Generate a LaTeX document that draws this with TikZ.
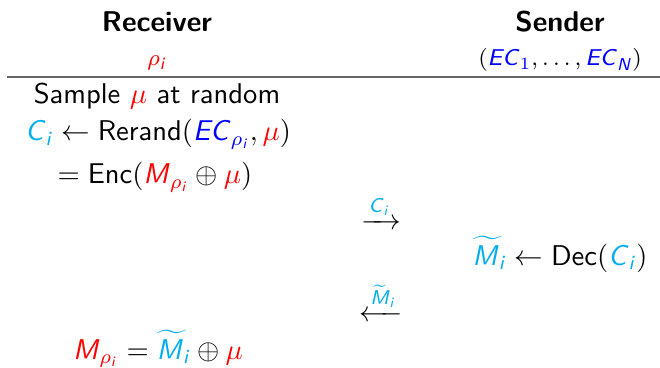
\documentclass[tikz,border=0pt]{standalone}
\usepackage{amsmath}
\usepackage{fontspec}
\usepackage{xcolor}
\definecolor{cy}{RGB}{0,174,239}
\definecolor{bl}{RGB}{0,0,255}
\definecolor{rd}{RGB}{255,0,0}
\newcommand\vv[1]{\textsf{\textit{#1}}}
\newcommand\wM{\widetilde{\vv{M}\kern1.2pt}\kern-1.2pt}
\begin{document}
\begin{tikzpicture}[x=0.35pt,y=-0.35pt,
  every node/.style={font=\sffamily, inner sep=0pt, anchor=base},
  head/.style={font=\sffamily\bfseries},
  key/.style={font=\sffamily\footnotesize},
  rule/.style={draw=black!60, line width=0.55pt}]
\useasboundingbox (0,0) rectangle (660,368);
\node[head] (rh) at (157,32) {Receiver};
\node[head] (sh) at (560,32) {Sender};
\node[key] (rk) at (157,66) {${\color{rd}\rho_{\vv{i}}}$};
\node[key] (sk) at (560,66) {$({\color{bl}\vv{EC}_1}, \ldots, {\color{bl}\vv{EC}_{\vv{N}}})$};
\coordinate (la) at (7,77);
\coordinate (lb) at (660,77);
\draw[rule] (la) -- (lb);
\node (r1) at (157,104) {Sample ${\color{rd}\mu}$ at random};
\node (r2) at (158,141) {${\color{cy}\vv{C}_{\vv{i}}} \leftarrow \textsf{Rerand}({\color{bl}\vv{EC}_{\rho_{\vv{i}}}}, {\color{rd}\mu})$};
\node (r3) at (155,184) {$= \textsf{Enc}({\color{rd}\vv{M}_{\rho_{\vv{i}}}} \oplus {\color{rd}\mu})$};
\node (a1) at (381,229) {$\xrightarrow{{\color{cy}\vv{C}_{\vv{i}}}}$};
\node (s1) at (560,265) {${\color{cy}\wM_{\vv{i}}} \leftarrow \textsf{Dec}({\color{cy}\vv{C}_{\vv{i}}})$};
\node (a2) at (381,321) {$\xleftarrow{{\color{cy}\widetilde{\vv{M}}_{\vv{i}}}}$};
\node (r4) at (158,359) {${\color{rd}\vv{M}_{\rho_{\vv{i}}}} = {\color{cy}\wM_{\vv{i}}} \oplus {\color{rd}\mu}$};
\end{tikzpicture}
\end{document}
